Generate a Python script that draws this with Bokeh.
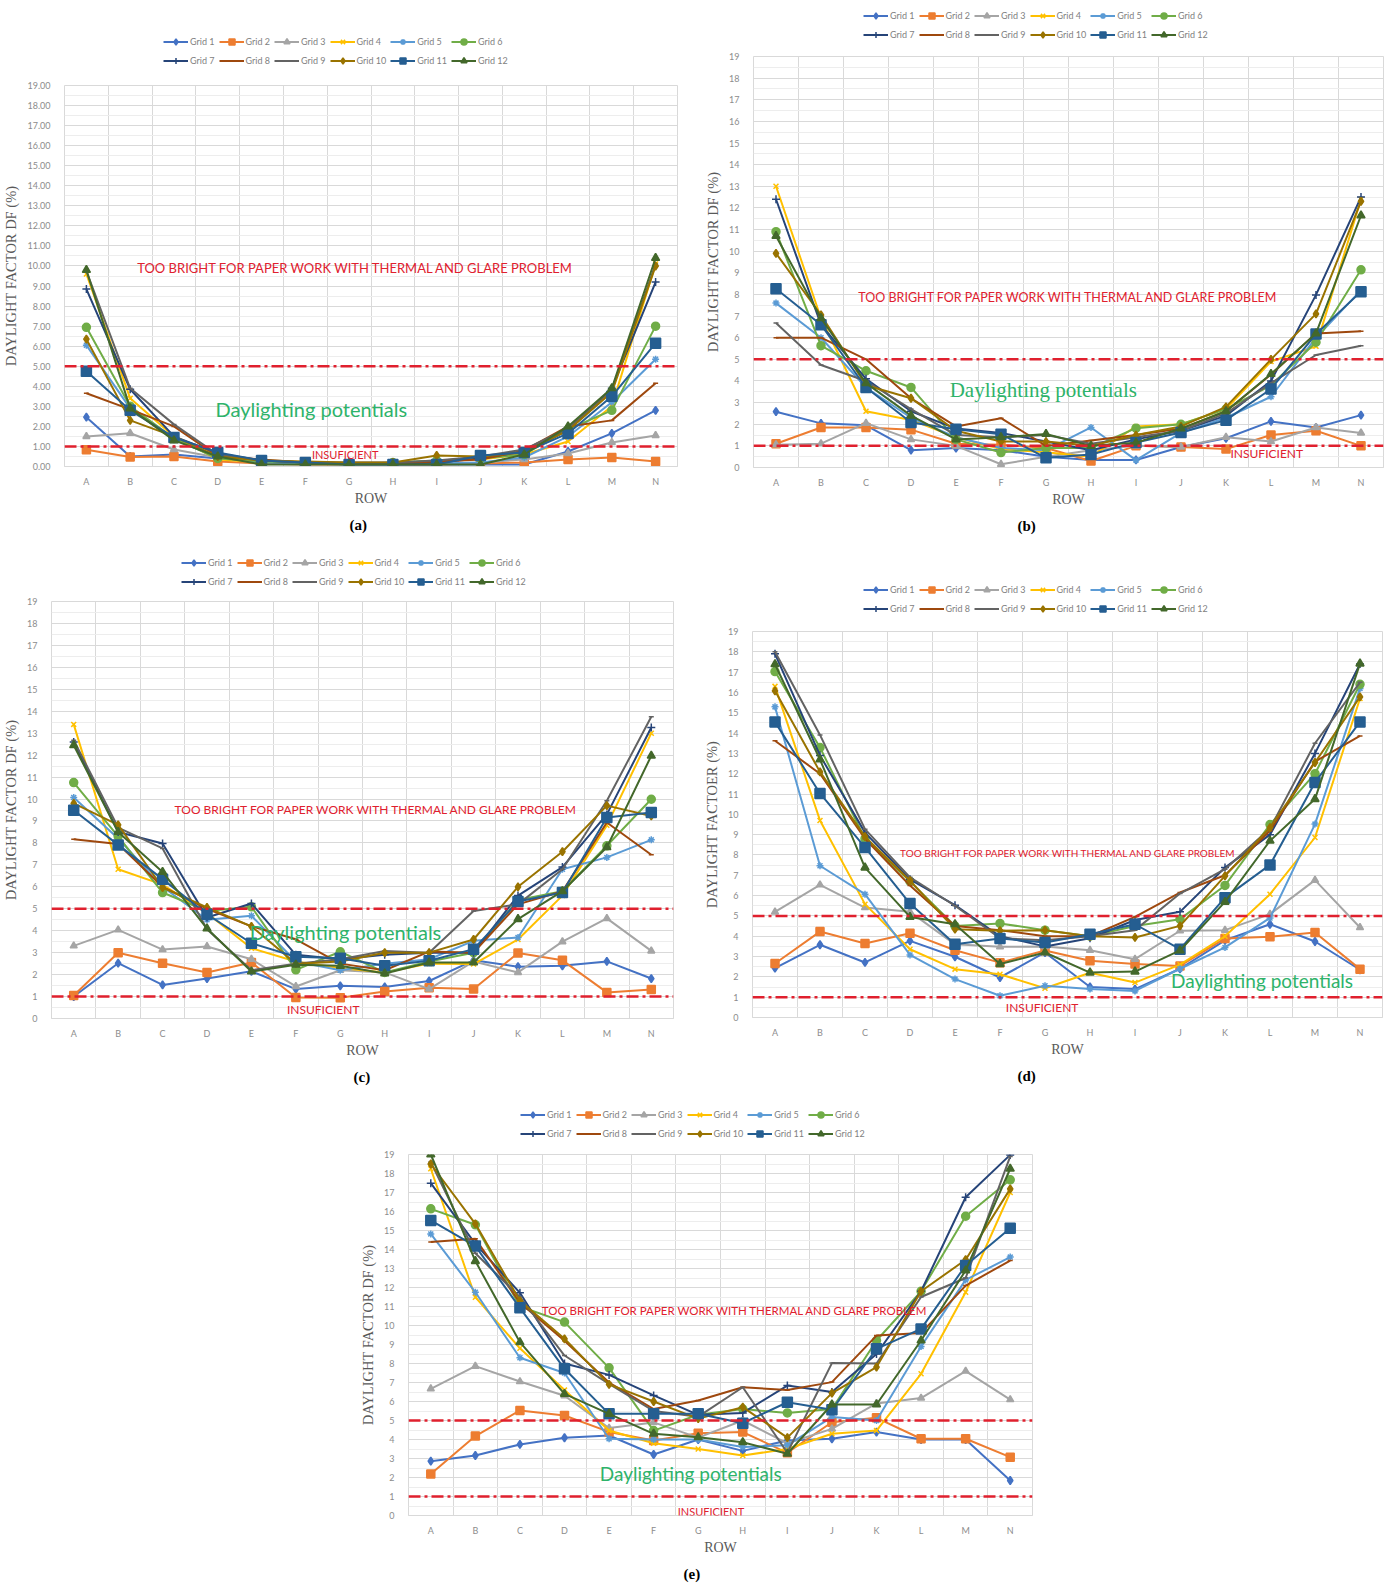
from bokeh.plotting import figure
from bokeh.models import (Range1d, FixedTicker, Label, Legend, LegendItem, Span,
                          PrintfTickFormatter, Spacer, ColumnDataSource)
from bokeh.layouts import column, row
from bokeh.embed import file_html
from bokeh.resources import INLINE

ROWS = list("ABCDEFGHIJKLMN")
GRIDS = [f"Grid {i}" for i in range(1, 13)]
COLORS = ["#4472C4", "#ED7D31", "#A5A5A5", "#FFC000", "#5B9BD5", "#70AD47",
          "#264478", "#9E480E", "#636363", "#997300", "#255E91", "#43682B"]
MARKERS = ["diamond", "square", "triangle", "x", "asterisk", "circle",
           "cross", "dash", "dash", "diamond", "square", "triangle"]
SIZES = [8, 8, 7, 7, 7, 8, 8, 5, 5, 8, 10, 8]
THRESHOLDS = [5, 1]

# ---- panel (a) ----
a_vals = [
    [2.46, 0.5, 0.6, 0.4, 0.25, 0.15, 0.1, 0.1, 0.1, 0.1, 0.1, 0.75, 1.65, 2.8],
    [0.83, 0.47, 0.5, 0.25, 0.15, 0.1, 0.1, 0.1, 0.1, 0.15, 0.2, 0.35, 0.45, 0.25],
    [1.5, 1.66, 0.85, 0.45, 0.2, 0.15, 0.1, 0.15, 0.15, 0.2, 0.35, 0.65, 1.2, 1.55],
    [9.6, 3.4, 1.5, 0.35, 0.2, 0.2, 0.15, 0.15, 0.3, 0.35, 0.6, 1.25, 3.0, 10.1],
    [6.05, 2.9, 1.35, 0.45, 0.2, 0.15, 0.1, 0.1, 0.15, 0.2, 0.45, 1.5, 3.2, 5.35],
    [6.94, 3.0, 1.4, 0.4, 0.25, 0.2, 0.1, 0.2, 0.3, 0.4, 0.6, 1.85, 2.8, 7.0],
    [8.85, 3.85, 1.5, 0.65, 0.3, 0.2, 0.15, 0.15, 0.2, 0.4, 0.75, 1.8, 3.9, 9.2],
    [3.65, 2.85, 2.0, 0.5, 0.35, 0.2, 0.15, 0.15, 0.25, 0.35, 0.8, 2.0, 2.3, 4.15],
    [9.75, 3.9, 2.1, 0.6, 0.3, 0.2, 0.2, 0.2, 0.3, 0.5, 0.85, 1.9, 3.8, 10.1],
    [6.35, 2.3, 1.5, 0.5, 0.3, 0.25, 0.2, 0.2, 0.55, 0.5, 0.7, 1.8, 3.7, 10.0],
    [4.75, 2.8, 1.45, 0.7, 0.3, 0.2, 0.1, 0.1, 0.1, 0.55, 0.7, 1.65, 3.5, 6.15],
    [9.8, 2.9, 1.3, 0.5, 0.1, 0.1, 0.1, 0.1, 0.1, 0.1, 0.6, 2.0, 3.9, 10.4],
]
# ---- panel (b) ----
b_vals = [
    [2.58, 2.04, 1.95, 0.8, 0.9, 0.8, 0.5, 0.35, 0.35, 0.95, 1.35, 2.13, 1.85, 2.42],
    [1.1, 1.85, 1.85, 1.75, 1.1, 1.05, 0.9, 0.3, 1.0, 0.95, 0.85, 1.5, 1.7, 1.0],
    [1.05, 1.1, 2.05, 1.3, 1.0, 0.15, 0.5, 0.8, 1.0, 0.95, 1.4, 1.2, 1.85, 1.6],
    [13.0, 6.9, 2.6, 2.2, 1.4, 0.85, 0.7, 0.5, 1.9, 2.0, 2.7, 4.9, 5.6, 12.4],
    [7.6, 6.0, 3.7, 2.3, 1.4, 0.9, 0.8, 1.85, 0.34, 1.6, 2.3, 3.27, 6.0, 8.2],
    [10.9, 5.63, 4.47, 3.7, 1.3, 0.69, 0.9, 0.9, 1.82, 2.0, 2.7, 3.8, 5.79, 9.14],
    [12.4, 6.6, 4.1, 2.6, 1.8, 1.6, 1.2, 0.8, 1.3, 1.7, 2.4, 4.0, 7.98, 12.5],
    [6.0, 6.0, 5.0, 3.2, 1.9, 2.28, 1.0, 1.25, 1.5, 1.8, 2.6, 4.3, 6.2, 6.3],
    [6.68, 4.74, 4.0, 2.7, 1.5, 1.4, 1.5, 1.1, 1.4, 1.7, 2.5, 3.9, 5.2, 5.63],
    [9.9, 7.05, 3.8, 3.2, 1.7, 1.2, 1.2, 1.0, 1.5, 1.9, 2.8, 5.0, 7.1, 12.3],
    [8.26, 6.6, 3.7, 2.08, 1.77, 1.54, 0.45, 0.6, 1.16, 1.62, 2.19, 3.63, 6.17, 8.13],
    [10.7, 6.9, 3.9, 2.4, 1.3, 1.4, 1.55, 1.0, 1.15, 1.8, 2.6, 4.32, 6.2, 11.65],
]
# ---- panel (c) ----
c_vals = [
    [1.0, 2.52, 1.53, 1.82, 2.15, 1.34, 1.49, 1.44, 1.71, 2.65, 2.36, 2.4, 2.6, 1.82],
    [1.05, 3.0, 2.52, 2.1, 2.55, 0.96, 0.95, 1.23, 1.4, 1.34, 2.98, 2.65, 1.19, 1.32],
    [3.31, 4.04, 3.14, 3.28, 2.7, 1.46, 2.2, 2.1, 1.34, 2.6, 2.1, 3.5, 4.56, 3.08],
    [13.4, 6.8, 6.1, 4.8, 3.2, 2.6, 2.3, 2.1, 2.5, 2.48, 3.6, 5.6, 8.8, 13.0],
    [10.07, 8.2, 6.0, 4.5, 4.68, 2.6, 2.2, 2.5, 2.7, 3.54, 3.69, 6.8, 7.34, 8.14],
    [10.75, 8.3, 5.74, 4.9, 5.09, 2.22, 3.04, 2.1, 2.6, 3.0, 5.4, 5.8, 7.87, 9.99],
    [12.6, 8.5, 7.97, 4.6, 5.24, 2.9, 2.7, 2.9, 3.0, 3.0, 5.6, 6.9, 9.3, 13.26],
    [8.17, 7.95, 6.0, 5.0, 4.2, 3.61, 2.5, 2.2, 3.05, 3.0, 5.2, 5.8, 8.93, 7.46],
    [12.68, 8.7, 7.75, 4.07, 2.2, 2.5, 2.7, 3.08, 3.0, 4.9, 5.2, 6.8, 9.92, 13.75],
    [9.8, 8.82, 5.97, 5.06, 4.2, 2.5, 2.6, 3.0, 3.0, 3.6, 6.0, 7.6, 9.7, 9.23],
    [9.49, 7.91, 6.35, 4.75, 3.43, 2.81, 2.75, 2.4, 2.63, 3.16, 5.33, 5.74, 9.16, 9.39],
    [12.45, 8.5, 6.68, 4.1, 2.14, 2.45, 2.4, 2.05, 2.55, 2.55, 4.53, 5.8, 7.8, 11.97],
]
# ---- panel (d) ----
d_vals = [
    [2.43, 3.58, 2.71, 3.77, 2.99, 1.97, 3.2, 1.5, 1.4, 2.4, 3.8, 4.59, 3.74, 2.35],
    [2.66, 4.23, 3.64, 4.15, 3.31, 2.7, 3.3, 2.79, 2.63, 2.54, 3.89, 3.97, 4.18, 2.38],
    [5.2, 6.53, 5.41, 5.2, 3.6, 3.48, 3.5, 3.31, 2.87, 4.27, 4.3, 5.09, 6.76, 4.43],
    [16.3, 9.7, 5.58, 3.36, 2.38, 2.13, 1.44, 2.2, 1.72, 2.6, 4.0, 6.07, 8.86, 15.7],
    [15.29, 7.47, 6.07, 3.08, 1.89, 1.07, 1.56, 1.4, 1.31, 2.4, 3.45, 4.9, 9.52, 16.2],
    [17.03, 13.29, 8.8, 6.7, 4.5, 4.63, 4.3, 4.0, 4.5, 4.84, 6.5, 9.5, 12.0, 16.4],
    [17.9, 12.9, 9.1, 6.8, 5.53, 4.0, 3.5, 3.9, 4.8, 5.2, 7.38, 9.0, 13.0, 17.4],
    [13.62, 12.0, 8.8, 6.5, 4.5, 4.3, 4.0, 4.0, 4.95, 6.15, 7.0, 9.19, 12.6, 13.86],
    [18.0, 13.91, 9.27, 6.9, 5.5, 3.9, 3.8, 4.0, 4.3, 6.1, 7.3, 9.3, 13.5, 16.5],
    [16.08, 12.09, 8.9, 6.73, 4.35, 4.27, 4.3, 4.0, 3.94, 4.51, 6.97, 9.35, 12.55, 15.78],
    [14.55, 11.03, 8.37, 5.61, 3.61, 3.89, 3.69, 4.1, 4.59, 3.36, 5.9, 7.51, 11.57, 14.55],
    [17.39, 12.7, 7.38, 4.95, 4.59, 2.63, 3.2, 2.21, 2.26, 3.3, 5.69, 8.7, 10.75, 17.42],
]
# ---- panel (e) ----
e_vals = [
    [2.86, 3.16, 3.74, 4.09, 4.21, 3.21, 4.0, 3.4, 3.95, 4.04, 4.39, 4.0, 4.0, 1.84],
    [2.19, 4.18, 5.53, 5.26, 4.4, 3.95, 4.33, 4.39, 3.3, 4.91, 5.14, 4.04, 4.04, 3.07],
    [6.67, 7.86, 7.05, 6.3, 4.6, 4.9, 4.1, 5.0, 3.8, 4.56, 5.9, 6.18, 7.6, 6.1],
    [18.25, 11.49, 8.8, 6.6, 4.47, 3.8, 3.5, 3.16, 3.5, 4.3, 4.47, 7.46, 11.75, 17.0],
    [14.82, 11.75, 8.3, 7.5, 4.04, 4.0, 4.0, 3.6, 3.7, 5.18, 5.0, 8.9, 12.4, 13.6],
    [16.14, 15.3, 11.0, 10.18, 7.77, 4.47, 5.3, 5.6, 5.4, 5.6, 9.21, 11.8, 15.75, 17.67],
    [17.49, 14.3, 11.72, 8.0, 7.4, 6.32, 5.3, 5.4, 6.84, 6.5, 8.5, 11.8, 16.75, 18.98],
    [14.39, 14.56, 11.2, 9.2, 7.0, 5.6, 6.05, 6.75, 6.6, 7.02, 9.47, 9.6, 12.1, 13.42],
    [18.6, 13.8, 11.5, 8.42, 6.93, 5.5, 5.2, 6.75, 3.3, 8.02, 8.0, 11.5, 12.5, 18.9],
    [18.5, 15.35, 11.3, 9.3, 6.9, 6.0, 5.1, 5.7, 4.1, 6.44, 7.81, 11.8, 13.46, 17.19],
    [15.53, 14.18, 10.93, 7.72, 5.35, 5.35, 5.35, 4.86, 5.96, 5.56, 8.77, 9.82, 13.16, 15.12],
    [19.0, 13.39, 9.12, 6.4, 5.35, 4.3, 4.12, 3.86, 3.25, 5.84, 5.84, 9.21, 12.9, 18.25],
]

TOO_BRIGHT = "TOO BRIGHT FOR PAPER WORK WITH THERMAL AND GLARE PROBLEM"
POTENTIAL = "Daylighting potentials"
INSUF = "INSUFICIENT"
RED = "#E0202E"
GREEN = "#2EB36A"
SANS = "Lato"
SERIF = "Liberation Serif"


def legend_strip(W, hl, vx, vy):
    lf = figure(width=W, height=hl, x_range=Range1d(0, 1), y_range=Range1d(0, 1),
                output_backend="svg", toolbar_location=None,
                x_axis_location=None, y_axis_location=None,
                min_border_left=0, min_border_right=0,
                min_border_top=0, min_border_bottom=0)
    lf.grid.visible = False
    lf.outline_line_color = None
    lf.background_fill_color = "white"
    lf.border_fill_color = "white"
    items = []
    for g, c, m, s in zip(GRIDS, COLORS, MARKERS, SIZES):
        # single off-range point: only the legend swatch is visible
        src = ColumnDataSource(dict(x=[-10.0, -9.0], y=[-10.0, -9.0]))
        ln = lf.line("x", "y", source=src, line_color=c, line_width=2)
        sc = lf.scatter("x", "y", source=src, marker=m, size=min(s, 7),
                        fill_color=c, line_color=c, line_width=1.5)
        items.append(LegendItem(label=g, renderers=[ln, sc]))
    leg = Legend(items=items, location=(vx, vy), orientation="horizontal", ncols=6,
                 padding=0, margin=0, spacing=4, glyph_width=25,
                 glyph_height=15, label_height=15, label_standoff=2,
                 label_text_font=SANS, label_text_font_size="9px",
                 label_text_color="#7f7f7f",
                 border_line_alpha=0, background_fill_alpha=0)
    lf.add_layout(leg)
    return lf


def panel(vals, W, H, borders, ylabel, fmt, leg_xy, notes, tag, tag_off):
    bl, br, bt, bb = borders
    hl = bt - 5
    lf = legend_strip(W, hl, leg_xy[0], leg_xy[1])
    p = figure(width=W, height=H - hl, x_range=Range1d(-0.5, 13.5), y_range=Range1d(0, 19),
               output_backend="svg", toolbar_location=None,
               title=tag, title_location="below",
               min_border_left=bl, min_border_right=br,
               min_border_top=5, min_border_bottom=bb)
    p.background_fill_color = "white"
    p.border_fill_color = "white"
    p.outline_line_color = "#d9d9d9"

    p.title.align = "left"
    p.title.offset = tag_off
    p.title.standoff = 12
    p.title.text_font = SERIF
    p.title.text_font_size = "15px"
    p.title.text_font_style = "bold"
    p.title.text_color = "black"

    xa = p.xaxis[0]
    xa.ticker = FixedTicker(ticks=list(range(len(ROWS))))
    xa.major_label_overrides = {i: r for i, r in enumerate(ROWS)}
    xa.major_tick_line_color = None
    xa.minor_tick_line_color = None
    xa.axis_line_color = "#d9d9d9"
    xa.major_label_text_font = SANS
    xa.major_label_text_font_size = "9px"
    xa.major_label_text_color = "#8c8c8c"
    xa.major_label_standoff = 3
    xa.axis_label = "ROW"
    xa.axis_label_text_font = SERIF
    xa.axis_label_text_font_size = "14px"
    xa.axis_label_text_font_style = "normal"
    xa.axis_label_text_color = "#595959"
    xa.axis_label_standoff = 1

    ya = p.yaxis[0]
    ya.ticker = FixedTicker(ticks=list(range(20)), minor_ticks=[i + 0.5 for i in range(19)])
    if fmt:
        ya.formatter = PrintfTickFormatter(format=fmt)
    ya.major_tick_line_color = None
    ya.minor_tick_line_color = None
    ya.axis_line_color = None
    ya.major_label_text_font = SANS
    ya.major_label_text_font_size = "9px"
    ya.major_label_text_color = "#8c8c8c"
    ya.major_label_standoff = 8
    ya.axis_label = ylabel
    ya.axis_label_text_font = SERIF
    ya.axis_label_text_font_size = "14.5px"
    ya.axis_label_text_font_style = "normal"
    ya.axis_label_text_color = "#595959"
    ya.axis_label_standoff = 5

    p.xgrid.ticker = FixedTicker(ticks=[i - 0.5 for i in range(len(ROWS) + 1)])
    p.xgrid.grid_line_color = "#d9d9d9"
    p.ygrid.grid_line_color = "#d9d9d9"
    p.ygrid.minor_grid_line_color = "#ededed"

    for t in THRESHOLDS:
        p.add_layout(Span(location=t, dimension="width", line_color=RED,
                          line_width=2.5, line_dash="12 4 3 4"))

    xs = list(range(len(ROWS)))
    for ys, c, m, s in zip(vals, COLORS, MARKERS, SIZES):
        src = ColumnDataSource(dict(x=xs, y=ys))
        p.line("x", "y", source=src, line_color=c, line_width=2)
        p.scatter("x", "y", source=src, marker=m, size=s,
                  fill_color=c, line_color=c, line_width=1.5)

    for (x, y, text, color, font, size) in notes:
        p.add_layout(Label(x=x, y=y, text=text, text_color=color, text_font=font,
                           text_font_size=size, text_align="left",
                           text_baseline="middle"))
    return column(lf, p, spacing=0)


pa = panel(a_vals, 690, 540, (59, 13, 85, 74), "DAYLIGHT FACTOR DF (%)", "%.2f",
           (99, 12),
           [(1.16, 9.9, TOO_BRIGHT, RED, SANS, "13px"),
            (2.95, 2.85, POTENTIAL, GREEN, SANS, "20px"),
            (5.15, 0.6, INSUF, RED, SANS, "11px")],
           "(a)", 285)
pb = panel(b_vals, 703, 540, (63, 10, 56, 73), "DAYLIGHT FACTOR DF (%)", None,
           (110, 9),
           [(1.83, 7.86, TOO_BRIGHT, RED, SANS, "12.5px"),
            (3.86, 3.6, POTENTIAL, GREEN, SERIF, "21px"),
            (10.1, 0.65, INSUF, RED, SANS, "12px")],
           "(b)", 264)
pc = panel(c_vals, 690, 550, (43, 17, 61, 72), "DAYLIGHT FACTOR DF (%)", None,
           (130, 7),
           [(2.27, 9.52, TOO_BRIGHT, RED, SANS, "12px"),
            (3.96, 3.96, POTENTIAL, GREEN, SANS, "20px"),
            (4.8, 0.4, INSUF, RED, SANS, "12px")],
           "(c)", 302)
pd_ = panel(d_vals, 703, 550, (62, 11, 91, 73), "DAYLIGHT FACTOER (%)", None,
            (111, 10),
            [(2.78, 8.1, TOO_BRIGHT, RED, SANS, "10px"),
             (8.8, 1.82, POTENTIAL, GREEN, SANS, "19px"),
             (5.13, 0.5, INSUF, RED, SANS, "12px")],
            "(d)", 265)
pe = panel(e_vals, 720, 502, (68, 28, 64, 77), "DAYLIGHT FACTOR DF (%)", None,
           (112, 8),
           [(2.49, 10.8, TOO_BRIGHT, RED, SANS, "11.5px"),
            (3.79, 2.2, POTENTIAL, GREEN, SANS, "19px"),
            (5.54, 0.2, INSUF, RED, SANS, "11px")],
           "(e)", 275)

layout = column(row(pa, pb), row(pc, pd_), row(Spacer(width=340, height=502), pe),
                spacing=0)
open("out.html", "w").write(file_html(layout, INLINE))
